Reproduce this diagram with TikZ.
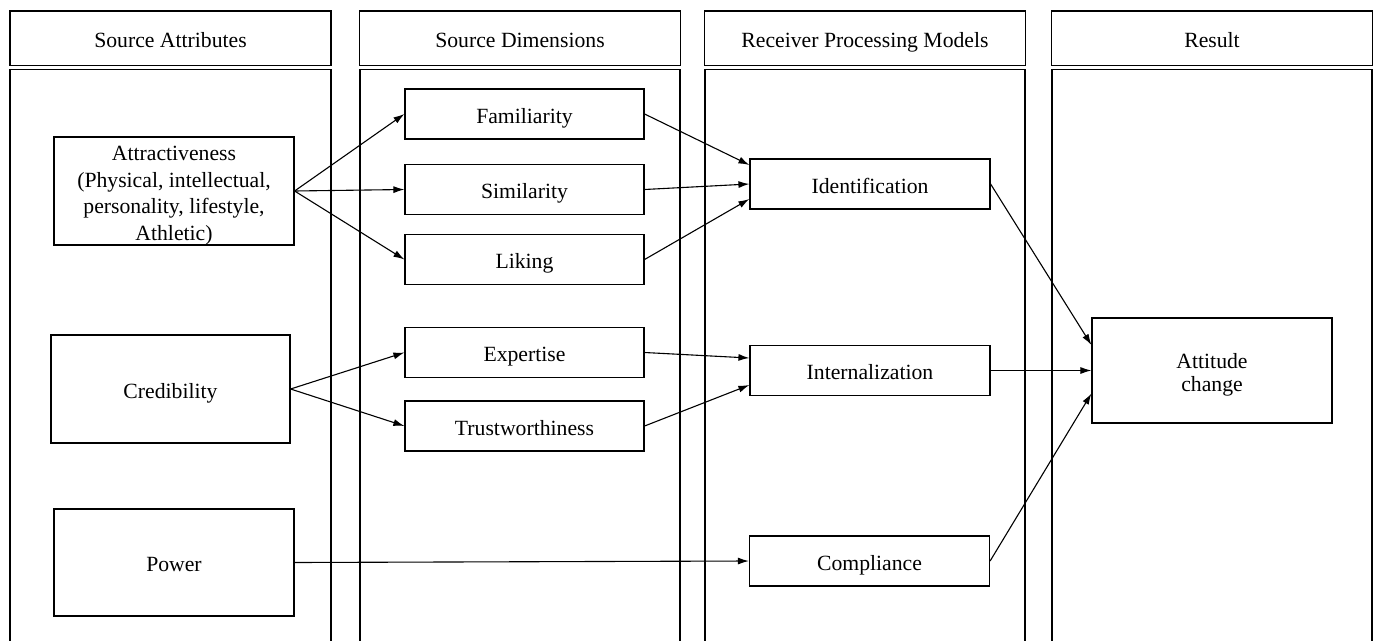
\documentclass[tikz,border=0pt]{standalone}
\usepackage{fontspec}
\setmainfont{Liberation Serif}
\usetikzlibrary{arrows.meta,calc}
\begin{document}
\begin{tikzpicture}[x=1pt,y=-1pt,
  every node/.style={font=\fontsize{21.7}{26.5}\selectfont},
  box/.style={draw, line width=1.2pt, inner sep=0pt, align=center},
  oneline/.style={box, text height=20pt, text depth=2pt},
  head/.style={oneline, minimum width=321pt, minimum height=54.5pt},
  dimbox/.style={oneline, minimum width=239pt, minimum height=50pt},
  procbox/.style={oneline, minimum width=240pt, minimum height=50pt},
  srcbox/.style={box, minimum width=240pt, minimum height=108pt},
  link/.style={line width=1.1pt, -{Latex[length=11pt,width=7pt]}},
  col/.style={line width=1.2pt}]
\useasboundingbox (0,0) rectangle (1376,640);

% column headers
\node[head] (h1) at (170.5,38.3) {Source Attributes};
\node[head] (h2) at (520,38.3) {Source Dimensions};
\node[head] (h3) at (865,38.3) {Receiver Processing Models};
\node[head] (h4) at (1212,38.3) {Result};

% column bodies, open at the bottom
\draw[col] (10,641) -- (10,69.5) -- (331,69.5) -- (331,641);
\draw[col] (360,641) -- (360,69.5) -- (680,69.5) -- (680,641);
\draw[col] (705,641) -- (705,69.5) -- (1025,69.5) -- (1025,641);
\draw[col] (1052,641) -- (1052,69.5) -- (1372,69.5) -- (1372,641);

% source attributes
\node[srcbox] (attr) at (174,191) {\rule{0pt}{24pt}Attractiveness\\(Physical, intellectual,\\personality, lifestyle,\\Athletic)};
\node[srcbox, minimum width=239pt, text height=20pt, text depth=2pt] (cred) at (170.5,389) {Credibility};
\node[srcbox, minimum height=107pt, text height=20pt, text depth=2pt] (pow) at (174,562.5) {Power};

% source dimensions
\node[dimbox] (fam) at (524.5,114) {Familiarity};
\node[dimbox] (sim) at (524.5,189.5) {Similarity};
\node[dimbox] (lik) at (524.5,259.5) {Liking};
\node[dimbox] (exp) at (524.5,352.5) {Expertise};
\node[dimbox] (tru) at (524.5,426) {Trustworthiness};

% receiver processing models
\node[procbox] (idf) at (870,184) {Identification};
\node[procbox] (int) at (870,370.5) {Internalization};
\node[procbox] (com) at (869.5,561) {Compliance};

% result
\node[box, minimum width=240pt, minimum height=105pt] (att) at (1212,370.5) {\rule{0pt}{24pt}Attitude\\[-3pt]change};

% connectors
\draw[link] (attr.east) -- (fam.west);
\draw[link] (attr.east) -- (sim.west);
\draw[link] (attr.east) -- (lik.west);
\draw[link] (cred.east) -- (exp.west);
\draw[link] (cred.east) -- (tru.west);
\draw[link] (pow.east) -- (com.west);

\draw[link] (fam.east) -- ($(idf.west)+(0,-19)$);
\draw[link] (sim.east) -- (idf.west);
\draw[link] (lik.east) -- ($(idf.west)+(0,15)$);
\draw[link] (exp.east) -- ($(int.west)+(0,-12.5)$);
\draw[link] (tru.east) -- ($(int.west)+(0,14.5)$);

\draw[link] (idf.east) -- ($(att.west)+(0,-25.5)$);
\draw[link] (int.east) -- (att.west);
\draw[link] (com.east) -- ($(att.west)+(0,23)$);
\end{tikzpicture}
\end{document}
